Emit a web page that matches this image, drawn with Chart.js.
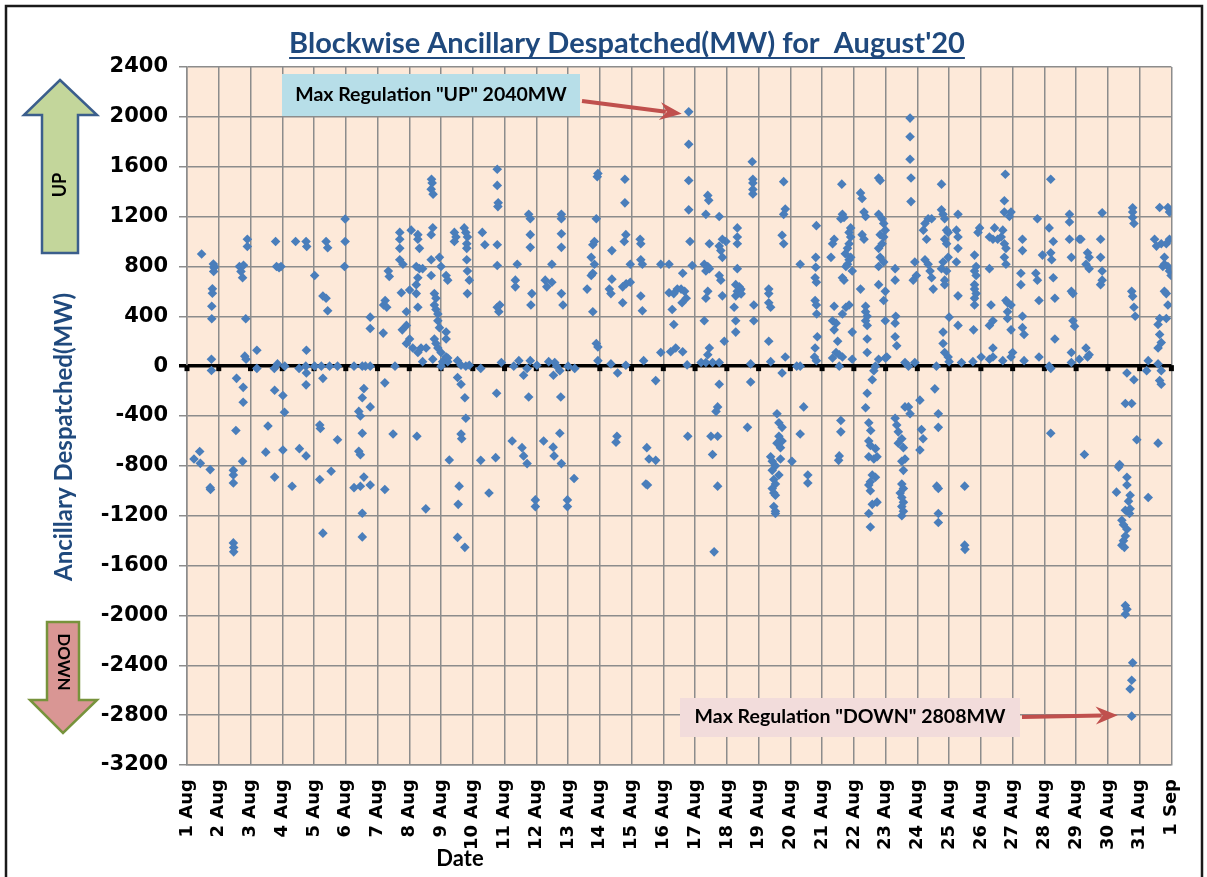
<!DOCTYPE html>
<html>
<head>
<meta charset="utf-8">
<title>Blockwise Ancillary Despatched</title>
<script src="https://cdn.jsdelivr.net/npm/chart.js@4.4.1/dist/chart.umd.min.js"></script>
<style>
  html, body { margin: 0; padding: 0; background: #fff; }
  canvas { display: block; }
</style>
</head>
<body>
<canvas id="chart" width="1207" height="877"></canvas>
<script>
// Date axis labels (one per day boundary)
const dateLabels = ['1 Aug', '2 Aug', '3 Aug', '4 Aug', '5 Aug', '6 Aug', '7 Aug', '8 Aug', '9 Aug', '10 Aug',
  '11 Aug', '12 Aug', '13 Aug', '14 Aug', '15 Aug', '16 Aug', '17 Aug', '18 Aug', '19 Aug', '20 Aug',
  '21 Aug', '22 Aug', '23 Aug', '24 Aug', '25 Aug', '26 Aug', '27 Aug', '28 Aug', '29 Aug', '30 Aug',
  '31 Aug', '1 Sep'];

const yTicks = [2400, 2000, 1600, 1200, 800, 400, 0, -400, -800, -1200, -1600, -2000, -2400, -2800, -3200];

// [day position, MW]  (1 = start of 1 Aug)
const week1 = [
  [1.22, -745], [1.40, -685], [1.42, -780], [1.46, 900], [1.73, -830], [1.73, -975], [1.74, -990],
  [1.77, 55], [1.77, -35], [1.78, 480], [1.78, 380], [1.80, 620], [1.80, 585], [1.83, 820],
  [1.84, 760], [1.85, 790], [1.86, 800],
  [2.46, -836], [2.46, -873], [2.46, -938], [2.46, -1418], [2.47, -1455], [2.47, -1490], [2.54, -516],
  [2.56, -98], [2.65, 800], [2.70, 760], [2.75, 710], [2.75, -764], [2.77, -170], [2.77, -290],
  [2.78, 810], [2.82, 80], [2.85, 380], [2.86, 55], [2.90, 1018], [2.90, 960],
  [3.20, 127], [3.20, -18], [3.48, -690], [3.55, -480], [3.75, -18], [3.76, -193], [3.76, -890],
  [3.79, 1000], [3.82, 800], [3.85, 18], [3.90, 790], [3.96, 800], [4.02, -236], [4.02, -673],
  [4.07, -370], [4.08, 0], [4.31, -964], [4.42, 1000], [4.53, -18], [4.54, -662], [4.75, 1000],
  [4.77, 960], [4.74, 0], [4.75, -150], [4.75, -720], [4.76, 127], [4.76, -55],
  [5.02, 727], [5.02, 0], [5.18, -472], [5.18, -909], [5.20, -500], [5.23, 0], [5.28, 563],
  [5.28, -98], [5.28, -1340], [5.38, 1000], [5.38, 545], [5.43, 950], [5.43, 444], [5.49, 0],
  [5.54, -843], [5.74, 0], [5.74, -590],
  [5.98, 1180], [5.98, 1000], [5.96, 800], [6.26, 0], [6.26, -975], [6.41, -363], [6.41, -683],
  [6.46, -400], [6.46, -710], [6.46, -964], [6.52, 0], [6.52, -254], [6.52, -538], [6.52, -1180],
  [6.52, -1370], [6.57, -180], [6.57, -890], [6.62, 0], [6.77, 393], [6.77, 302], [6.77, 0],
  [6.77, -327], [6.77, -953],
  [7.18, 265], [7.19, 491], [7.23, -134], [7.23, -990], [7.24, 527], [7.29, 473], [7.34, 763],
  [7.37, 720], [7.49, -545], [7.55, 0], [7.70, 1073], [7.70, 1018], [7.70, 945], [7.70, 854],
  [7.75, 589], [7.78, 291], [7.80, 818], [7.91, 436], [7.91, 327], [7.91, 182]
];

const week2 = [
  [8.01, 611], [8.01, 218], [8.06, 1091], [8.11, 145], [8.22, 800], [8.22, 654], [8.22, 582],
  [8.24, -563], [8.27, 1055], [8.27, 1018], [8.27, 709], [8.27, 473], [8.27, 109], [8.32, 945],
  [8.32, 782], [8.37, 145], [8.42, 782], [8.42, 36], [8.52, -1145], [8.53, 145],
  [8.70, 1500], [8.72, 1470], [8.69, 1420], [8.75, 1380], [8.74, 1110], [8.69, 1055], [8.69, 854],
  [8.69, 727], [8.79, 582], [8.84, 545], [8.79, 491], [8.84, 454], [8.90, 418], [8.90, 364],
  [8.95, 309], [8.95, 873], [9.00, 800], [9.16, 273], [9.16, 218], [8.79, 218], [8.84, 182],
  [8.90, 145], [9.00, 109], [9.16, 73], [9.05, 36], [8.74, 55], [9.21, 36], [9.16, 727],
  [9.21, 690], [9.00, 0], [9.21, 65],
  [9.26, -753], [9.42, 1073], [9.42, 1000], [9.47, 1036], [9.52, 44], [9.52, -91], [9.52, -1374],
  [9.54, -1109], [9.57, -963], [9.63, 7], [9.63, -145], [9.63, -545], [9.65, -582], [9.73, 1109],
  [9.75, -254], [9.75, -1454], [9.78, 1073], [9.78, 0], [9.78, -418], [9.81, 982], [9.81, 945],
  [9.81, 854], [9.83, 1036], [9.83, 763], [9.83, 582], [9.89, 690], [9.89, 7],
  [10.25, -18], [10.25, -756], [10.30, 1073], [10.38, 974], [10.51, -1018], [10.72, -734],
  [10.75, -218], [10.77, 1580], [10.77, 1450], [10.80, 1310], [10.79, 1280], [10.77, 974],
  [10.77, 807], [10.77, 473], [10.85, 491], [10.82, 436], [10.90, 29],
  [11.24, -600], [11.29, 0], [11.34, 690], [11.34, 636], [11.40, 818], [11.45, 44], [11.55, -654],
  [11.60, -73], [11.60, -720], [11.71, -18], [11.71, -782], [11.76, 1218], [11.76, -247],
  [11.81, 1182], [11.81, 1055], [11.81, 953], [11.81, 44], [11.86, 582], [11.83, 491],
  [11.97, -1073], [11.97, -1127],
  [12.02, 7], [12.23, -600], [12.28, 690], [12.33, 636], [12.39, 36], [12.49, 818], [12.49, 673],
  [12.54, -73], [12.53, -650], [12.56, -720], [12.58, 29], [12.64, 0], [12.74, -36], [12.77, -247],
  [12.74, -538], [12.79, -782], [12.79, 1218], [12.79, 1182], [12.79, 1062], [12.79, 953],
  [12.79, 582], [12.84, 491], [12.98, -1073], [12.98, -1127], [13.00, 0], [13.19, -902], [13.21, -18],
  [13.60, 618], [13.73, 873], [13.73, 727], [13.78, 974], [13.78, 745], [13.78, 436], [13.83, 1000],
  [13.83, 818], [13.89, 1182], [13.89, 182], [13.94, 1545], [13.92, 1520], [13.94, 153], [13.94, 44],
  [14.30, 618], [14.35, 582], [14.35, 18], [14.38, 927], [14.38, 698], [14.51, -611], [14.54, -563],
  [14.56, -55], [14.72, 636], [14.72, 509], [14.77, 1000], [14.79, 1500], [14.79, 1310],
  [14.82, 1055], [14.82, 7], [14.83, 661], [14.96, 818], [14.96, 673]
];

const week3 = [
  [15.27, 1018], [15.29, 982], [15.29, 854], [15.29, 563], [15.34, 818], [15.34, 444], [15.38, 44],
  [15.45, -945], [15.48, -654], [15.50, -953], [15.55, -745], [15.76, -116], [15.76, -756],
  [15.92, 818], [15.92, 109], [16.18, 818], [16.18, 589], [16.23, 116], [16.28, 454], [16.33, 582],
  [16.33, 334], [16.39, 145], [16.44, 618], [16.56, 618], [16.59, 509], [16.61, 745], [16.67, 600],
  [16.72, 545], [16.61, 116], [16.75, 10],
  [16.80, 2040], [16.80, 1780], [16.80, 1490], [16.80, 1254], [16.84, 1000], [16.91, 807],
  [16.77, -563],
  [17.19, 29], [17.29, 818], [17.29, 364], [17.34, 1218], [17.34, 763], [17.34, 545], [17.34, 29],
  [17.40, 1370], [17.43, 1330], [17.40, 800], [17.40, 600], [17.40, 91], [17.45, 982], [17.45, 782],
  [17.45, 145], [17.55, 29], [17.76, 1200], [17.76, 963], [17.76, 727], [17.76, 29], [17.81, 927],
  [17.81, 690], [17.86, 1018], [17.86, 873], [17.86, 564], [17.92, 200], [17.97, 1000],
  [17.76, -145], [17.71, -327], [17.66, -363], [17.50, -563], [17.71, -563], [17.55, -709],
  [17.71, -963], [17.60, -1490],
  [18.33, 1109], [18.33, 1036], [18.33, 982], [18.33, 782], [18.28, 654], [18.33, 600], [18.28, 564],
  [18.44, 618], [18.39, 636], [18.40, 590], [18.42, 610], [18.45, 580], [18.23, 473], [18.28, 364],
  [18.28, 273], [18.85, 491], [18.85, 364], [18.75, 18], [18.75, -127], [18.65, -491],
  [18.80, 1640], [18.82, 1500], [18.82, 1470], [18.82, 1418], [18.82, 1382],
  [19.32, 618], [19.32, 582], [19.32, 509], [19.38, 473], [19.32, 200], [19.38, 36], [19.74, -55],
  [19.84, 73], [19.79, 1480], [19.84, 1260], [19.79, 1218], [19.74, 1050], [19.79, 982],
  [19.58, -382], [19.64, -454], [19.74, -491], [19.64, -563], [19.74, -600], [19.58, -618],
  [19.69, -654], [19.38, -727], [19.43, -764], [19.53, -800], [19.43, -836], [19.64, -873],
  [19.48, -909], [19.53, -945], [19.43, -982], [19.48, -1018], [19.53, -1036], [19.48, -1127],
  [19.53, -1164], [19.53, -1182], [19.69, -745], [20.05, -764], [20.31, -545], [20.42, -327],
  [20.20, 0], [20.31, 0], [20.31, 818], [20.55, -873], [20.55, -938],
  [20.82, 1127], [20.80, 873], [20.80, 793], [20.78, 709], [20.82, 673], [20.78, 527], [20.82, 491],
  [20.83, 418], [20.85, 236], [20.78, 145], [20.82, 44], [20.76, 73]
];

const week4 = [
  [21.62, 1460], [21.64, 1218], [21.69, 1193], [21.59, 1182], [21.38, 1018], [21.33, 982],
  [21.28, 873], [21.73, 902], [21.85, 1073], [21.90, 1109], [21.90, 1036], [21.85, 982], [21.80, 945],
  [21.90, 873], [21.85, 854], [21.80, 818], [21.75, 800], [21.95, 763], [21.64, 709], [21.69, 690],
  [21.75, 473], [21.64, 418], [21.85, 491], [21.38, 480], [21.33, 364], [21.44, 345], [21.38, 291],
  [21.49, 200], [21.44, 109], [21.54, 91], [21.64, 73], [21.95, 55], [21.54, 0], [21.33, 65],
  [21.59, -436], [21.59, -527], [21.54, -720], [21.52, -756],
  [22.21, 1390], [22.26, 1345], [22.32, 1236], [22.37, 1200], [22.26, 1055], [22.32, 1018],
  [22.21, 618], [22.37, 480], [22.37, 436], [22.42, 400], [22.37, 364], [22.42, 327], [21.95, 273],
  [22.42, 218], [22.42, 109], [22.68, 0], [22.78, 55],
  [22.78, 1510], [22.83, 1490], [22.78, 1218], [22.89, 1182], [22.94, 1145], [22.99, 1091],
  [22.83, 1055], [22.94, 1036], [22.89, 982], [22.78, 945], [22.83, 873], [22.94, 836], [22.78, 800],
  [22.78, 654], [22.99, 600], [22.94, 527], [22.99, 364], [23.04, 73], [22.99, 65],
  [22.63, -36], [22.58, -109], [22.42, -218], [22.37, -334], [22.47, -454], [22.53, -516],
  [22.47, -600], [22.52, -636], [22.68, -662], [22.47, -727], [22.63, -745], [22.73, -727],
  [22.58, -873], [22.52, -927], [22.47, -953], [22.52, -1000], [22.68, -891], [22.73, -1091],
  [22.58, -1109], [22.47, -1182], [22.52, -1291],
  [23.30, 782], [23.30, 690], [23.32, 400], [23.30, 345], [23.30, 236], [23.35, 164], [23.61, 29],
  [23.72, 0], [23.77, 1990], [23.77, 1840], [23.77, 1660], [23.80, 1510], [23.80, 1320],
  [23.92, 836], [23.87, 690], [23.97, 727], [23.92, 29],
  [23.72, -327], [23.77, -382], [23.61, -327], [23.30, -418], [23.35, -472], [23.40, -527],
  [23.51, -582], [23.40, -618], [23.56, -654], [23.61, -745], [23.51, -764], [23.56, -836],
  [23.51, -945], [23.56, -982], [23.46, -1018], [23.51, -1054], [23.56, -1091], [23.51, -1127],
  [23.56, -1164], [23.51, -1200],
  [24.08, -273], [24.13, -509], [24.18, -582], [24.08, -673],
  [24.24, 1145], [24.34, 1182], [24.45, 1182], [24.29, 1018], [24.24, 854], [24.34, 818],
  [24.40, 763], [24.45, 709], [24.50, 618], [24.19, 1091],
  [24.76, 1460], [24.76, 1254], [24.81, 1218], [24.86, 1182], [24.97, 1073], [24.92, 1091],
  [24.86, 1018], [24.92, 982], [24.97, 873], [24.81, 836], [24.76, 782], [24.92, 763], [24.86, 690],
  [24.86, 654], [25.00, 393], [24.81, 273], [24.81, 182], [24.86, 109], [24.97, 73], [25.00, 36],
  [24.60, 0], [24.55, -182], [24.66, -382], [24.66, -491], [24.61, -963], [24.66, -982],
  [24.66, -1182], [24.66, -1254],
  [25.28, 1218], [25.23, 1091], [25.28, 1036], [25.28, 945], [25.23, 836], [25.28, 564],
  [25.28, 327], [25.39, 29], [25.49, -963], [25.49, -1436], [25.50, -1470],
  [25.80, 891], [25.85, 800], [25.80, 763], [25.85, 727], [25.80, 654], [25.80, 618], [25.85, 582],
  [25.80, 545], [25.80, 491], [25.77, 291], [25.96, 1109], [25.91, 1073], [25.75, 36], [26.01, 73],
  [26.27, 782], [26.32, 491], [26.38, 364], [26.27, 327], [26.27, 55], [26.38, 145], [26.38, 73],
  [26.43, 1109], [26.38, 1018], [26.27, 1036], [26.53, 1018], [26.64, 1036], [26.69, 1091],
  [26.74, 982], [26.79, 945], [26.74, 873], [26.79, 818], [26.79, 527], [26.84, 509], [26.95, 491],
  [26.84, 436], [26.84, 382], [26.95, 291], [26.74, 1327], [26.74, 1236], [26.95, 1236],
  [26.90, 1200], [26.77, 1540], [26.69, 44], [26.95, 73], [27.00, 109],
  [27.31, 1018], [27.31, 927], [27.26, 745], [27.26, 654], [27.31, 400], [27.31, 309], [27.36, 254],
  [27.73, 745], [27.78, 690], [27.83, 527], [27.78, 1182], [27.36, 44], [27.83, 73],
  [28.20, 1500], [28.15, 1109], [28.20, 909], [27.94, 891], [28.15, 0], [28.20, -18], [28.20, -538]
];

const week5 = [
  [28.28, 1000], [28.23, 854], [28.28, 709], [28.33, 545], [28.33, 218],
  [28.79, 1218], [28.79, 1156], [28.79, 1018], [28.85, 873], [28.85, 600], [28.90, 582],
  [28.90, 364], [28.95, 320], [28.85, 109], [28.85, 29], [29.10, 1018], [29.15, 1018], [29.10, 55],
  [29.31, 145], [29.41, 91], [29.36, 73], [29.26, -709], [29.36, 909], [29.41, 873], [29.41, 782],
  [29.31, 818], [29.82, 1230], [29.77, 1018], [29.77, 873], [29.82, 763], [29.82, 690], [29.77, 654],
  [30.78, 1270], [30.78, 1236], [30.78, 1193], [30.82, 1145], [30.75, 600], [30.78, 560],
  [30.82, 473], [30.86, 400], [30.60, -55], [30.82, -109], [30.55, -300], [30.75, -300], [30.91, -590],
  [30.37, -790], [30.34, -810], [30.60, -891], [30.60, -953], [30.27, -1011], [30.70, -1036],
  [30.65, -1083], [30.55, -1156], [30.70, -1145], [30.68, -1182], [30.44, -1236], [30.49, -1273],
  [30.60, -1309], [30.55, -1363], [30.49, -1400], [30.44, -1436], [30.52, -1454], [30.55, -1920],
  [30.60, -1950], [30.55, -1990], [30.78, -2380], [30.75, -2520], [30.70, -2590], [30.75, -2808],
  [31.27, 44], [31.22, -36], [31.58, 18], [31.68, -36], [31.63, -116], [31.68, -145], [31.58, 145],
  [31.68, 189], [31.63, 254], [31.58, 334], [31.63, 382], [31.84, 382], [31.89, 491], [31.84, 582],
  [31.78, 600], [31.73, 800], [31.78, 818], [31.89, 800], [31.94, 763], [31.99, 727], [31.78, 873],
  [31.68, 982], [31.84, 982], [31.94, 1018], [31.47, 1018], [31.53, 963], [31.63, 1273],
  [31.89, 1273], [31.94, 1236], [31.58, -618], [31.27, -1054]
];

const allPoints = week1.concat(week2, week3, week4, week5).map(p => ({ x: p[0], y: p[1] }));

// max up / max down points used by the callouts
const maxUp = allPoints.reduce((a, b) => (b.y > a.y ? b : a));
const maxDown = allPoints.reduce((a, b) => (b.y < a.y ? b : a));

function drawArrow(ctx, x1, y1, x2, y2) {
  const ang = Math.atan2(y2 - y1, x2 - x1);
  const c = Math.cos(ang), s = Math.sin(ang);
  const head = 22, hw = 9;
  const bx = x2 - head * c, by = y2 - head * s;
  ctx.strokeStyle = '#C0504D';
  ctx.fillStyle = '#C0504D';
  ctx.lineWidth = 4;
  ctx.beginPath();
  ctx.moveTo(x1, y1);
  ctx.lineTo(bx + 6 * c, by + 6 * s);
  ctx.stroke();
  ctx.beginPath();
  ctx.moveTo(x2, y2);
  ctx.lineTo(bx - hw * s, by + hw * c);
  ctx.lineTo(bx + 7 * c, by + 7 * s);
  ctx.lineTo(bx + hw * s, by - hw * c);
  ctx.closePath();
  ctx.fill();
}

function rotatedText(ctx, text, x, y, angle) {
  ctx.save();
  ctx.translate(x, y);
  ctx.rotate(angle);
  ctx.fillText(text, 0, 0);
  ctx.restore();
}

const decorPlugin = {
  id: 'decor',
  beforeDraw(chart) {
    const { ctx, chartArea: a } = chart;
    ctx.save();
    ctx.fillStyle = '#ffffff';
    ctx.fillRect(0, 0, chart.width, chart.height);
    ctx.fillStyle = '#FDE9D9';
    ctx.fillRect(a.left, a.top, a.right - a.left, a.bottom - a.top);
    ctx.restore();
  },
  beforeDatasetsDraw(chart) {
    // small tick marks of the date axis, which crosses at 0
    const { ctx, scales } = chart;
    const y0 = scales.y.getPixelForValue(0);
    ctx.save();
    ctx.fillStyle = '#000';
    scales.x.ticks.forEach(t => {
      const px = scales.x.getPixelForValue(t.value);
      ctx.fillRect(px - 2.5, y0 - 1, 5, 6);
    });
    ctx.restore();
  },
  afterDraw(chart) {
    const { ctx, scales } = chart;
    ctx.save();

    // outer frame
    ctx.strokeStyle = '#1a1a1a';
    ctx.lineWidth = 2.5;
    ctx.strokeRect(6, 6, 1196, 900);

    // title
    const title = "Blockwise Ancillary Despatched(MW) for  August'20";
    ctx.font = 'bold 29px Lato';
    ctx.fillStyle = '#1F497D';
    ctx.textAlign = 'center';
    ctx.textBaseline = 'alphabetic';
    ctx.fillText(title, 627, 53);
    const tw = ctx.measureText(title).width;
    ctx.fillRect(627 - tw / 2, 57, tw, 2);

    // y axis title
    ctx.font = 'bold 24px Lato';
    ctx.textBaseline = 'middle';
    rotatedText(ctx, 'Ancillary Despatched(MW)', 64, 437, -Math.PI / 2);

    // x axis title
    ctx.fillStyle = '#000';
    ctx.font = 'bold 22px Lato';
    ctx.fillText('Date', 460, 859);

    // UP block arrow
    ctx.beginPath();
    ctx.moveTo(60, 80);
    ctx.lineTo(97, 115);
    ctx.lineTo(78, 115);
    ctx.lineTo(78, 253);
    ctx.lineTo(42, 253);
    ctx.lineTo(42, 115);
    ctx.lineTo(24, 115);
    ctx.closePath();
    ctx.fillStyle = '#C3D69B';
    ctx.fill();
    ctx.strokeStyle = '#3B5E8C';
    ctx.lineWidth = 2.5;
    ctx.stroke();
    ctx.fillStyle = '#000';
    ctx.font = 'bold 18px Lato';
    rotatedText(ctx, 'UP', 60, 185, -Math.PI / 2);

    // DOWN block arrow
    ctx.beginPath();
    ctx.moveTo(47, 622);
    ctx.lineTo(79, 622);
    ctx.lineTo(79, 700);
    ctx.lineTo(97, 700);
    ctx.lineTo(63, 733);
    ctx.lineTo(30, 700);
    ctx.lineTo(47, 700);
    ctx.closePath();
    ctx.fillStyle = '#D99694';
    ctx.fill();
    ctx.strokeStyle = '#77933C';
    ctx.stroke();
    ctx.fillStyle = '#000';
    ctx.font = 'bold 17px Lato';
    rotatedText(ctx, 'DOWN', 63, 662, Math.PI / 2);

    // callout: max up
    ctx.fillStyle = '#B7DEE8';
    ctx.fillRect(282, 74, 298, 42);
    ctx.fillStyle = '#000';
    ctx.font = 'bold 19.5px Lato';
    ctx.fillText('Max Regulation "UP" 2040MW', 431, 95);
    const ux = scales.x.getPixelForValue(maxUp.x);
    const uy = scales.y.getPixelForValue(maxUp.y);
    drawArrow(ctx, 582, 101, ux - 7, uy + 2);

    // callout: max down
    ctx.fillStyle = '#F2DCDB';
    ctx.fillRect(680, 698, 340, 39);
    ctx.fillStyle = '#000';
    ctx.fillText('Max Regulation "DOWN" 2808MW', 850, 717);
    const dx = scales.x.getPixelForValue(maxDown.x);
    const dy = scales.y.getPixelForValue(maxDown.y);
    drawArrow(ctx, 1022, 717, dx - 14, dy - 1);

    ctx.restore();
  }
};

const gridGrey = '#8C8C8C';

new Chart(document.getElementById('chart'), {
  type: 'scatter',
  data: {
    datasets: [{
      label: 'Ancillary Despatched',
      data: allPoints,
      pointStyle: 'rectRot',
      pointRadius: 4.8,
      pointHoverRadius: 4.8,
      pointBorderWidth: 0,
      backgroundColor: '#4A7EBB',
      borderColor: '#4A7EBB'
    }]
  },
  options: {
    responsive: false,
    animation: false,
    devicePixelRatio: 1,
    layout: { padding: { left: 0, top: 67, right: 27, bottom: 0 } },
    plugins: {
      legend: { display: false },
      title: { display: false },
      tooltip: { enabled: false }
    },
    scales: {
      x: {
        type: 'linear',
        min: 1,
        max: 32,
        afterBuildTicks: scale => {
          scale.ticks = dateLabels.map((_, i) => ({ value: i + 1 }));
        },
        afterFit: scale => { scale.height = 112; },
        grid: { color: gridGrey, lineWidth: 1.5, drawTicks: false },
        border: { color: gridGrey, width: 1.5 },
        ticks: {
          autoSkip: false,
          minRotation: 90,
          maxRotation: 90,
          padding: 14,
          color: '#000',
          font: { family: 'DejaVu Sans', weight: 'bold', size: 18 },
          callback: v => dateLabels[Math.round(v) - 1]
        }
      },
      y: {
        min: -3200,
        max: 2400,
        afterBuildTicks: scale => {
          scale.ticks = yTicks.map(v => ({ value: v }));
        },
        afterFit: scale => { scale.width = 187; },
        grid: {
          color: c => (c.tick && c.tick.value === 0 ? '#000' : gridGrey),
          lineWidth: c => (c.tick && c.tick.value === 0 ? 3.5 : 1.5),
          tickLength: 8
        },
        border: { color: gridGrey, width: 1.5 },
        ticks: {
          padding: 11,
          color: '#000',
          font: { family: 'DejaVu Sans', weight: 'bold', size: 21 },
          callback: v => String(v)
        }
      }
    }
  },
  plugins: [decorPlugin]
});
</script>
</body>
</html>
